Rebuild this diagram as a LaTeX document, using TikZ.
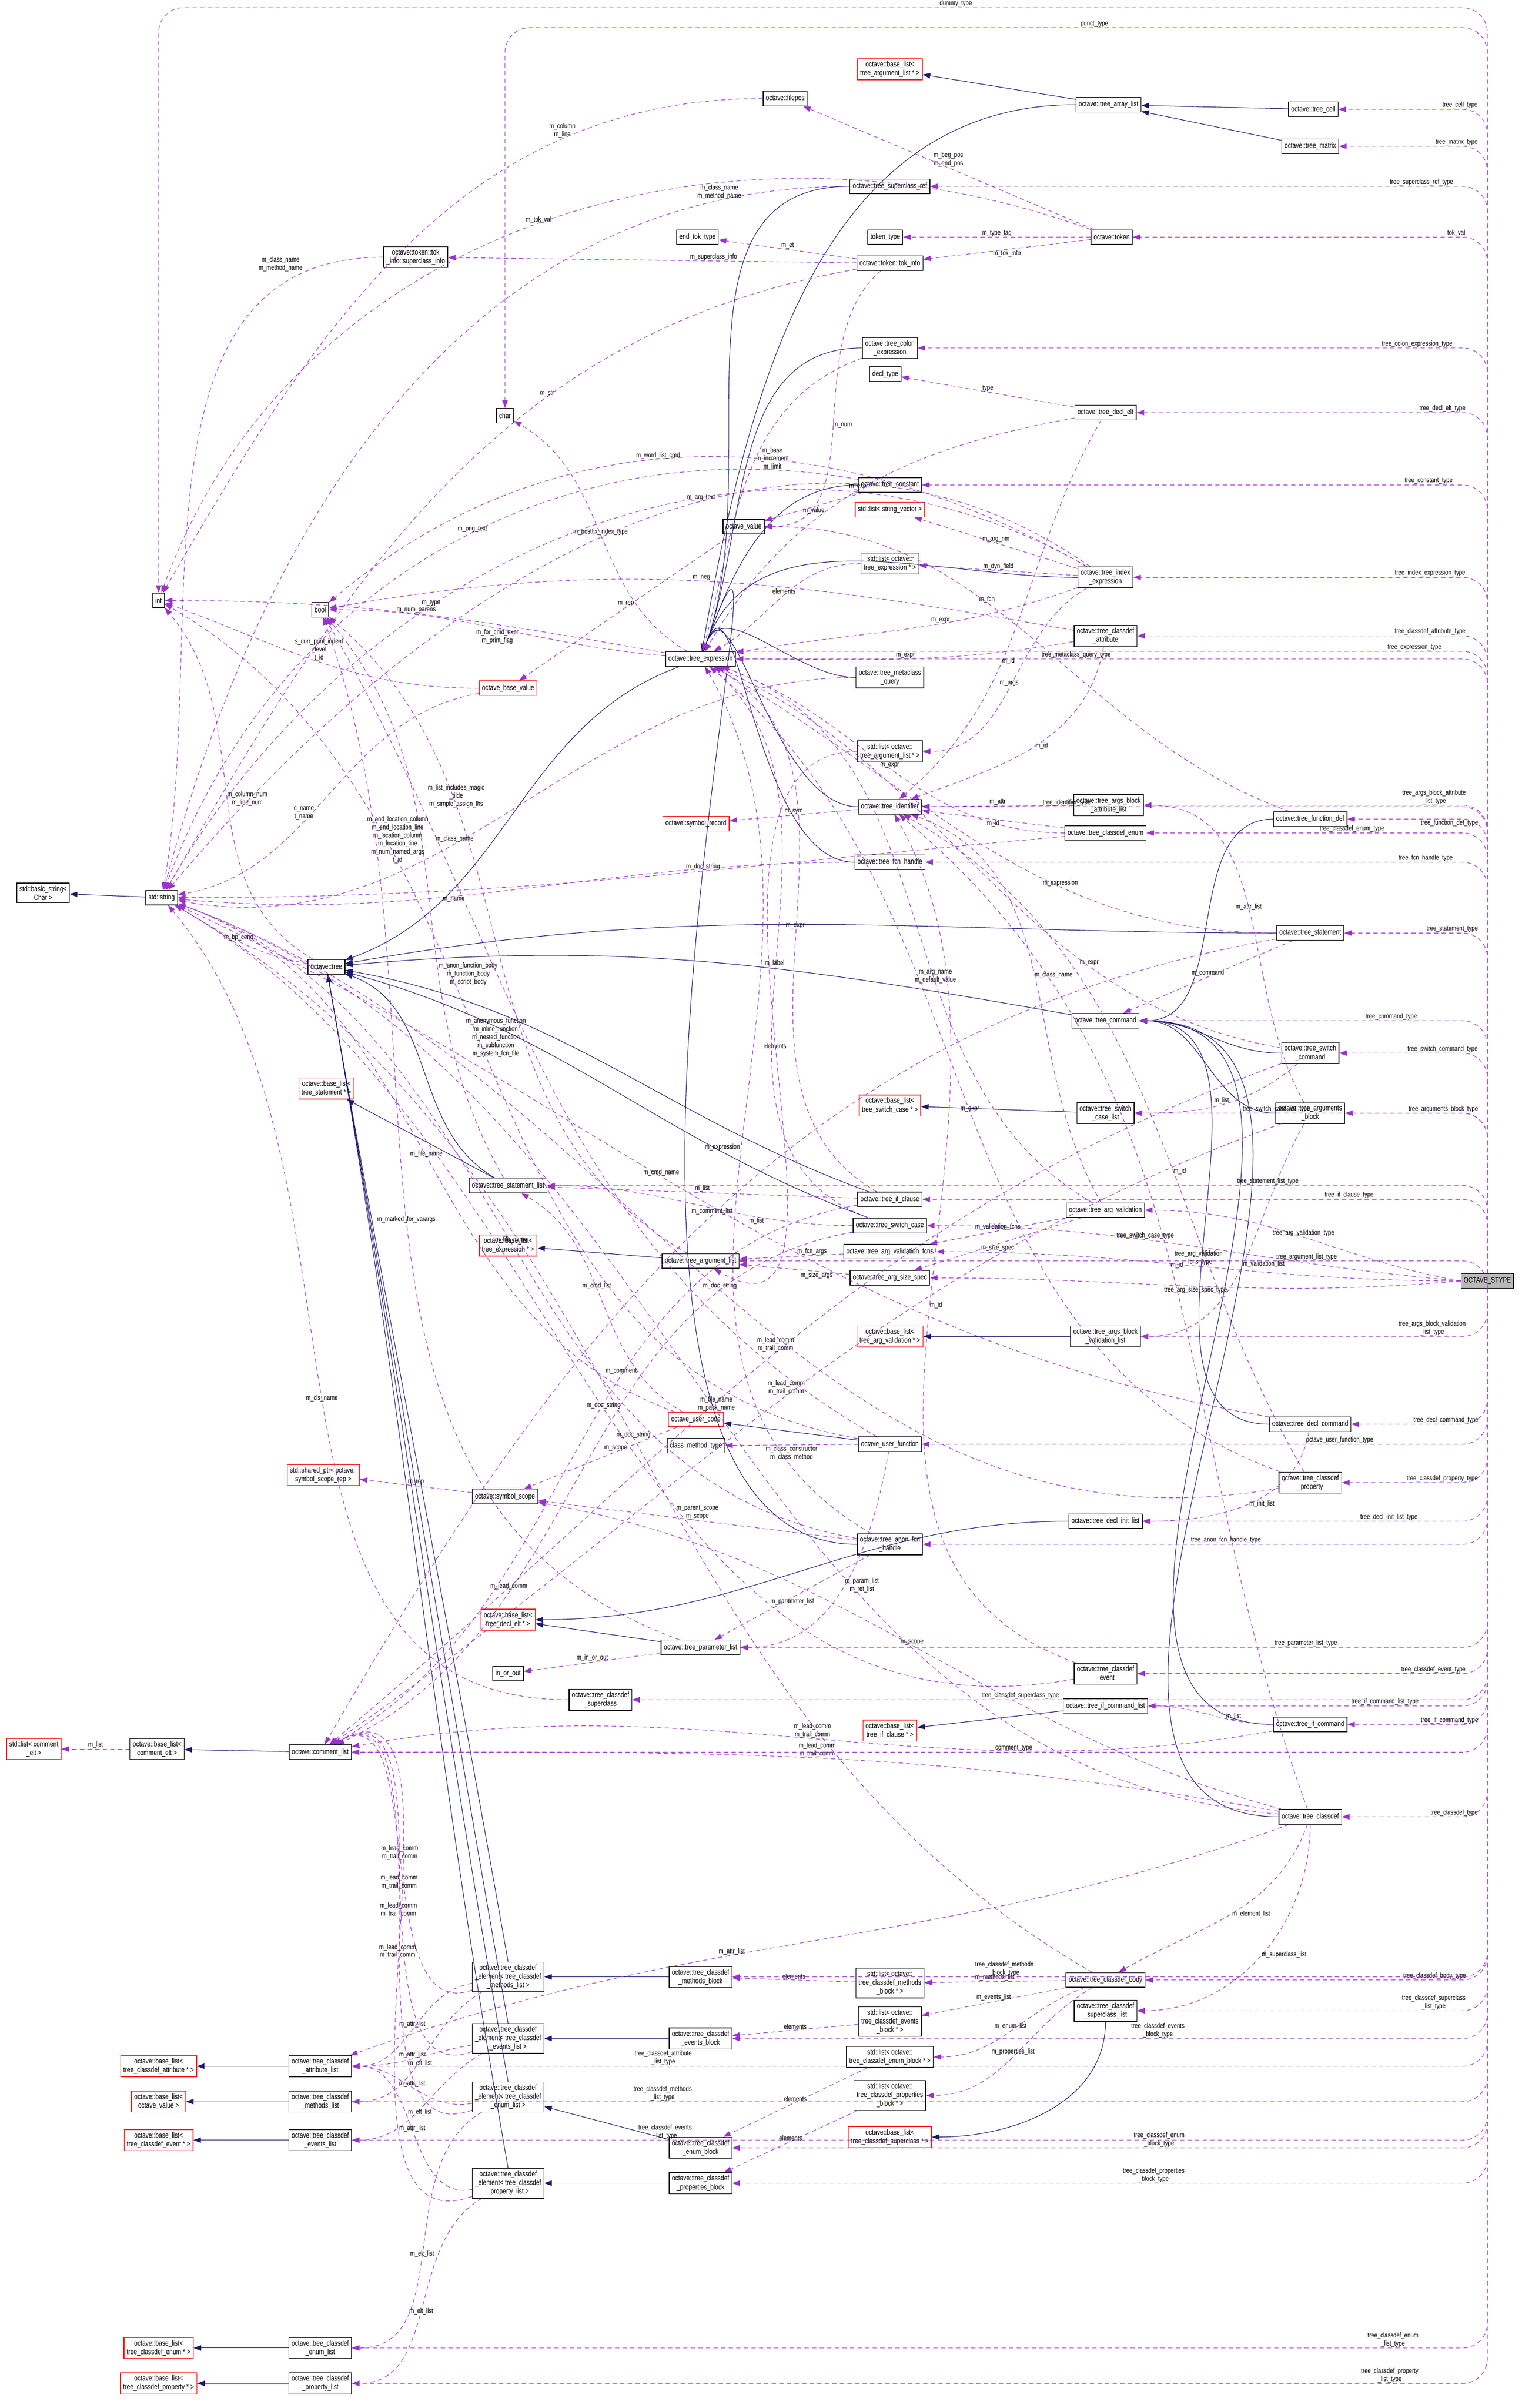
\documentclass[tikz,border=0pt]{standalone}
\usepackage{fontspec}
\setmainfont{Liberation Sans}[FakeStretch=0.8]
\usetikzlibrary{arrows.meta}
\definecolor{usecol}{HTML}{9A32CD}
\definecolor{inhcol}{HTML}{191970}
\newcommand\LT{\textless{}}
\newcommand\GT{\textgreater{}}
\begin{document}
\begin{tikzpicture}[x=0.25mm,y=-0.25mm,
  font=\fontsize{3.5}{4}\selectfont,
  cls/.style={draw=black,line width=0.3pt,fill=white,align=center,inner sep=1.25pt,minimum height=0.2375cm},
  ext/.style={cls,draw=red},
  root/.style={cls,fill=gray!55},
  uses/.style={draw=usecol,dashed,line width=0.25pt,dash pattern=on 2pt off 1.5pt,-{Triangle[length=3.5pt,width=2.5pt]},color=usecol},
  inh/.style={draw=inhcol,line width=0.25pt,-{Triangle[length=3.5pt,width=2.5pt]},color=inhcol},
  lbl/.style={text=black,align=center,inner sep=0.25pt,font=\fontsize{3.25}{3.75}\selectfont},
  stp/.style={uses,rounded corners=4mm},
  sl/.style={lbl,anchor=south east}]
\useasboundingbox (0,0) rectangle (995,1564);
% ---------- nodes ----------
\node[root] (S) at (966,832) {OCTAVE\_STYPE};
\node[cls] (cell) at (853,71) {octave::tree\_cell};
\node[cls] (matrix) at (851,95) {octave::tree\_matrix};
\node[cls] (arrl) at (720,68) {octave::tree\_array\_list};
\node[ext] (lal) at (578,45) {octave::base\_list\LT\\tree\_argument\_list * \GT};
\node[cls] (filepos) at (510,64) {octave::filepos};
\node[cls] (scref) at (578,121) {octave::tree\_superclass\_ref};
\node[cls] (token) at (722,154) {octave::token};
\node[cls] (ttype) at (575,154) {token\_type};
\node[cls] (etok) at (453,154) {end\_tok\_type};
\node[cls] (tokinfo) at (578,171) {octave::token::tok\_info};
\node[cls] (scinfo) at (270,167) {octave::token::tok\\\_info::superclass\_info};
\node[cls] (colon) at (578,226) {octave::tree\_colon\\\_expression};
\node[cls] (decltype) at (575,243) {decl\_type};
\node[cls] (declelt) at (718,268) {octave::tree\_decl\_elt};
\node[cls] (char) at (328,270) {char};
\node[cls] (const) at (578,315) {octave::tree\_constant};
\node[ext] (lsv) at (578,331) {std::list\LT{} string\_vector \GT};
\node[cls] (oval) at (483,342) {octave\_value};
\node[cls] (lte1) at (578,366) {std::list\LT{} octave::\\tree\_expression * \GT};
\node[cls] (idx) at (718,375) {octave::tree\_index\\\_expression};
\node[cls] (bool) at (208,396) {bool};
\node[cls] (int) at (103,390) {int};
\node[cls] (cdattr) at (718,413) {octave::tree\_classdef\\\_attribute};
\node[cls] (expr) at (455,428) {octave::tree\_expression};
\node[cls] (meta) at (578,440) {octave::tree\_metaclass\\\_query};
\node[ext] (obv) at (330,447) {octave\_base\_value};
\node[cls] (lal2) at (578,488) {std::list\LT{} octave::\\tree\_argument\_list * \GT};
\node[cls] (ident) at (578,524) {octave::tree\_identifier};
\node[ext] (symrec) at (452,535) {octave::symbol\_record};
\node[cls] (abattr) at (720,523) {octave::tree\_args\_block\\\_attribute\_list};
\node[cls] (fdef) at (851,532) {octave::tree\_function\_def};
\node[cls] (cdenum) at (718,541) {octave::tree\_classdef\_enum};
\node[cls] (fcnh) at (578,560) {octave::tree\_fcn\_handle};
\node[cls] (bstr) at (28,580) {std::basic\_string\LT\\Char \GT};
\node[cls] (str) at (105,583) {std::string};
\node[cls] (stmt) at (851,606) {octave::tree\_statement};
\node[cls] (tree) at (212,628) {octave::tree};
\node[cls] (cmd) at (718,663) {octave::tree\_command};
\node[cls] (swcmd) at (851,684) {octave::tree\_switch\\\_command};
\node[ext] (lstmt) at (212,707) {octave::base\_list\LT\\tree\_statement * \GT};
\node[ext] (lswc) at (578,718) {octave::base\_list\LT\\tree\_switch\_case * \GT};
\node[cls] (swcl) at (718,723) {octave::tree\_switch\\\_case\_list};
\node[cls] (argblk) at (851,723) {octave::tree\_arguments\\\_block};
\node[cls] (stl) at (330,770) {octave::tree\_statement\_list};
\node[cls] (ifcl) at (578,779) {octave::tree\_if\_clause};
\node[cls] (argval) at (718,786) {octave::tree\_arg\_validation};
\node[cls] (swc) at (578,796) {octave::tree\_switch\_case};
\node[ext] (lte2) at (330,809) {octave::base\_list\LT\\tree\_expression * \GT};
\node[cls] (argl) at (455,819) {octave::tree\_argument\_list};
\node[cls] (avf) at (578,813) {octave::tree\_arg\_validation\_fcns};
\node[cls] (ass) at (578,830) {octave::tree\_arg\_size\_spec};
\node[ext] (lav) at (578,868) {octave::base\_list\LT\\tree\_arg\_validation * \GT};
\node[cls] (abvl) at (718,868) {octave::tree\_args\_block\\\_validation\_list};
\node[ext] (ucode) at (452,922) {octave\_user\_code};
\node[cls] (dcmd) at (851,925) {octave::tree\_decl\_command};
\node[cls] (ufcn) at (578,938) {octave\_user\_function};
\node[cls] (cmt) at (452,939) {class\_method\_type};
\node[ext] (sptr) at (210,958) {std::shared\_ptr\LT{} octave::\\symbol\_scope\_rep \GT};
\node[cls] (cdprop) at (851,963) {octave::tree\_classdef\\\_property};
\node[cls] (sscope) at (328,972) {octave::symbol\_scope};
\node[cls] (anon) at (578,1003) {octave::tree\_anon\_fcn\\\_handle};
\node[cls] (dil) at (718,988) {octave::tree\_decl\_init\_list};
\node[ext] (lde) at (330,1052) {octave::base\_list\LT\\tree\_decl\_elt * \GT};
\node[cls] (parl) at (455,1070) {octave::tree\_parameter\_list};
\node[cls] (inout) at (330,1087) {in\_or\_out};
\node[cls] (cdsup) at (390,1104) {octave::tree\_classdef\\\_superclass};
\node[cls] (cdevt) at (718,1087) {octave::tree\_classdef\\\_event};
\node[cls] (ifcl2) at (718,1108) {octave::tree\_if\_command\_list};
\node[ext] (lifc) at (578,1124) {octave::base\_list\LT\\tree\_if\_clause * \GT};
\node[cls] (ifcmd) at (851,1120) {octave::tree\_if\_command};
\node[ext] (lca) at (22,1136) {std::list\LT{} comment\\\_elt \GT};
\node[cls] (blca) at (102,1136) {octave::base\_list\LT\\comment\_elt \GT};
\node[cls] (cl) at (208,1138) {octave::comment\_list};
\node[cls] (cd) at (851,1180) {octave::tree\_classdef};
\node[cls] (elm) at (330,1284) {octave::tree\_classdef\\\_element\LT{} tree\_classdef\\\_methods\_list \GT};
\node[cls] (mblk) at (455,1284) {octave::tree\_classdef\\\_methods\_block};
\node[cls] (lmb) at (578,1288) {std::list\LT{} octave::\\tree\_classdef\_methods\\\_block * \GT};
\node[cls] (body) at (718,1286) {octave::tree\_classdef\_body};
\node[cls] (supl) at (718,1306) {octave::tree\_classdef\\\_superclass\_list};
\node[cls] (leb) at (578,1313) {std::list\LT{} octave::\\tree\_classdef\_events\\\_block * \GT};
\node[cls] (ele) at (330,1324) {octave::tree\_classdef\\\_element\LT{} tree\_classdef\\\_events\_list \GT};
\node[cls] (eblk) at (455,1324) {octave::tree\_classdef\\\_events\_block};
\node[ext] (lattr) at (103,1342) {octave::base\_list\LT\\tree\_classdef\_attribute * \GT};
\node[cls] (attrl) at (208,1342) {octave::tree\_classdef\\\_attribute\_list};
\node[cls] (lenb) at (578,1336) {std::list\LT{} octave::\\tree\_classdef\_enum\_block * \GT};
\node[cls] (elen) at (330,1362) {octave::tree\_classdef\\\_element\LT{} tree\_classdef\\\_enum\_list \GT};
\node[ext] (lov) at (103,1365) {octave::base\_list\LT\\octave\_value \GT};
\node[cls] (methl) at (208,1365) {octave::tree\_classdef\\\_methods\_list};
\node[cls] (lpb) at (578,1361) {std::list\LT{} octave::\\tree\_classdef\_properties\\\_block * \GT};
\node[ext] (levt) at (103,1390) {octave::base\_list\LT\\tree\_classdef\_event * \GT};
\node[cls] (evtl) at (208,1390) {octave::tree\_classdef\\\_events\_list};
\node[ext] (lsup) at (578,1388) {octave::base\_list\LT\\tree\_classdef\_superclass * \GT};
\node[cls] (enblk) at (455,1395) {octave::tree\_classdef\\\_enum\_block};
\node[cls] (elp) at (330,1418) {octave::tree\_classdef\\\_element\LT{} tree\_classdef\\\_property\_list \GT};
\node[cls] (pblk) at (455,1418) {octave::tree\_classdef\\\_properties\_block};
\node[ext] (lenum) at (103,1525) {octave::base\_list\LT\\tree\_classdef\_enum * \GT};
\node[cls] (enl) at (208,1525) {octave::tree\_classdef\\\_enum\_list};
\node[ext] (lprop) at (103,1548) {octave::base\_list\LT\\tree\_classdef\_property * \GT};
\node[cls] (propl) at (208,1548) {octave::tree\_classdef\\\_property\_list};
% ---------- inheritance ----------
\draw[inh] (cell) -- (arrl);
\draw[inh] (matrix) -- (arrl);
\draw[inh] (arrl) -- (lal);
\draw[inh] (arrl) to[out=180,in=80] (expr);
\foreach \n in {scref,colon,const,idx,meta,ident,fcnh,anon}
  \draw[inh] (\n.west) to[out=180,in=70] (expr);
\draw[inh] (expr) to[out=200,in=20] (tree);
\draw[inh] (stmt) to[out=180,in=10] (tree);
\draw[inh] (cmd) to[out=170,in=5] (tree);
\draw[inh] (stl) to[out=150,in=-20] (tree);
\draw[inh] (ifcl) to[out=160,in=-10] (tree);
\draw[inh] (swc) to[out=160,in=-15] (tree);
\draw[inh] (stl) -- (lstmt);
\foreach \n in {fdef,swcmd,argblk,ifcmd,cd,dcmd}
  \draw[inh] (\n) to[out=180,in=0] (cmd);
\draw[inh] (swcl) -- (lswc);
\draw[inh] (argl) -- (lte2);
\draw[inh] (abvl) -- (lav);
\draw[inh] (dil) to[out=180,in=0] (lde);
\draw[inh] (parl) -- (lde);
\draw[inh] (ifcl2) -- (lifc);
\draw[inh] (ufcn) -- (ucode);
\draw[inh] (str) -- (bstr);
\draw[inh] (cl) -- (blca);
\foreach \n in {elm,ele,elen,elp}
  \draw[inh] (\n.north) to[out=100,in=-80] (tree);
\draw[inh] (mblk) -- (elm);
\draw[inh] (eblk) -- (ele);
\draw[inh] (enblk) -- (elen);
\draw[inh] (pblk) -- (elp);
\draw[inh] (attrl) -- (lattr);
\draw[inh] (methl) -- (lov);
\draw[inh] (evtl) -- (levt);
\draw[inh] (enl) -- (lenum);
\draw[inh] (propl) -- (lprop);
\draw[inh] (supl) to[out=-90,in=0] (lsup);
% ---------- usage (internal) ----------
\draw[uses] (blca) -- node[lbl,above]{m\_list} (lca);
\draw[uses] (token) -- node[lbl,above]{m\_beg\_pos\\m\_end\_pos} (filepos);
\draw[uses] (filepos) to[out=180,in=60] node[lbl,above,pos=0.25]{m\_column\\m\_line} (int);
\draw[uses] (token) to[out=160,in=70] node[lbl,above,pos=0.5]{m\_tok\_val} (int);
\draw[uses] (token) -- node[lbl,above]{m\_type\_tag} (ttype);
\draw[uses] (token) -- node[lbl,below]{m\_tok\_info} (tokinfo);
\draw[uses] (tokinfo) -- node[lbl,above]{m\_et} (etok);
\draw[uses] (tokinfo) -- node[lbl,above,pos=0.35]{m\_superclass\_info} (scinfo);
\draw[uses] (tokinfo) to[out=190,in=60] node[lbl,above,pos=0.35]{m\_str} (str);
\draw[uses] (tokinfo) to[out=220,in=0] node[lbl,right,pos=0.5]{m\_num} (oval);
\draw[uses] (scinfo) to[out=180,in=80] node[lbl,above left,pos=0.12]{m\_class\_name\\m\_method\_name} (str);
\draw[uses] (scref) to[out=180,in=75] node[lbl,above,pos=0.12]{m\_class\_name\\m\_method\_name} (str);
\draw[uses] (colon) to[out=200,in=75] node[lbl,right,pos=0.45]{m\_base\\m\_increment\\m\_limit} (expr);
\draw[uses] (declelt) -- node[lbl,above]{type} (decltype);
\draw[uses] (declelt) to[out=190,in=60] node[lbl,above,pos=0.5]{m\_expr} (expr);
\draw[uses] (declelt) to[out=-120,in=40] node[lbl,right,pos=0.6]{m\_id} (ident);
\draw[uses] (const) -- node[lbl,below]{m\_value} (oval);
\draw[uses] (const) to[out=170,in=70] node[lbl,above,pos=0.45]{m\_orig\_text} (str);
\draw[uses] (oval) -- node[lbl,above]{m\_rep} (obv);
\draw[uses] (expr) to[out=150,in=-30] node[lbl,above,pos=0.5]{m\_postfix\_index\_type} (char);
\draw[uses] (expr) to[out=170,in=0] node[lbl,above,pos=0.5]{m\_num\_parens} (int);
\draw[uses] (expr) to[out=175,in=0] node[lbl,below,pos=0.5]{m\_for\_cmd\_expr\\m\_print\_flag} (bool);
\draw[uses] (idx) -- node[lbl,above]{m\_arg\_nm} (lsv);
\draw[uses] (idx) -- node[lbl,above]{m\_dyn\_field} (lte1);
\draw[uses] (idx) to[out=200,in=10] node[lbl,above,pos=0.4]{m\_expr} (expr);
\draw[uses] (idx) to[out=210,in=0] node[lbl,above,pos=0.5]{m\_args} (lal2);
\draw[uses] (idx) to[out=150,in=60] node[lbl,above,pos=0.65]{m\_type} (str);
\draw[uses] (idx) to[out=150,in=40] node[lbl,above,pos=0.55]{m\_word\_list\_cmd} (bool);
\draw[uses] (idx) to[out=145,in=50] node[lbl,above,pos=0.4]{m\_arg\_text} (str);
\draw[uses] (lte1) to[out=180,in=30] node[lbl,above]{elements} (expr);
\draw[uses] (lal2) to[out=180,in=-30] node[lbl,above]{elements} (argl);
\draw[uses] (cdattr) to[out=190,in=0] node[lbl,above,pos=0.5]{m\_expr} (expr);
\draw[uses] (cdattr) to[out=-100,in=20] node[lbl,right,pos=0.5]{m\_id} (ident);
\draw[uses] (cdattr) to[out=170,in=10] node[lbl,above,pos=0.5]{m\_neg} (bool);
\draw[uses] (meta) to[out=180,in=-10] node[lbl,above,pos=0.6]{m\_class\_name} (str);
\draw[uses] (ident) -- node[lbl,above]{m\_sym} (symrec);
\draw[uses] (abattr) -- node[lbl,above]{m\_attr} (ident);
\draw[uses] (cdenum) -- node[lbl,below]{m\_id} (ident);
\draw[uses] (cdenum) to[out=180,in=-20] node[lbl,above,pos=0.5]{m\_expr} (expr);
\draw[uses] (cdenum) to[out=185,in=0] node[lbl,above,pos=0.4]{m\_doc\_string} (str);
\draw[uses] (fcnh) to[out=180,in=-5] node[lbl,below,pos=0.6]{m\_name} (str);
\draw[uses] (fdef) to[out=160,in=0] node[lbl,above,pos=0.6]{m\_fcn} (oval);
\draw[uses] (stmt) -- node[lbl,above]{m\_command} (cmd);
\draw[uses] (stmt) to[out=180,in=-30] node[lbl,above,pos=0.35]{m\_expression} (expr);
\draw[uses] (stmt) to[out=190,in=60] node[lbl,above,pos=0.5]{m\_comment\_list} (cl);
\draw[uses] (tree) to[out=150,in=-50] node[lbl,right,pos=0.5]{m\_column\_num\\m\_line\_num} (int);
\draw[uses] (tree) to[out=170,in=-30] node[lbl,above,pos=0.5]{m\_bp\_cond} (str);
\draw[uses] (obv) to[out=180,in=-20] node[lbl,above,pos=0.5]{s\_curr\_print\_indent\\\_level\\t\_id} (int);
\draw[uses] (obv) to[out=190,in=10] node[lbl,above,pos=0.6]{c\_name\\t\_name} (str);
\draw[uses] (swcmd) to[out=170,in=-25] node[lbl,above,pos=0.3]{m\_expr} (expr);
\draw[uses] (swcmd) to[out=220,in=0] node[lbl,above,pos=0.5]{m\_list} (swcl);
\draw[uses] (swcmd) to[out=200,in=40] node[lbl,above,pos=0.5]{m\_lead\_comm\\m\_trail\_comm} (cl);
\draw[uses] (argblk) to[out=120,in=0] node[lbl,above,pos=0.5]{m\_attr\_list} (abattr);
\draw[uses] (argblk) to[out=-120,in=0] node[lbl,right,pos=0.5]{m\_validation\_list} (abvl);
\draw[uses] (argblk) to[out=200,in=35] node[lbl,above,pos=0.5]{m\_lead\_comm\\m\_trail\_comm} (cl);
\draw[uses] (ifcl) to[out=150,in=-30] node[lbl,above,pos=0.5]{m\_expr} (expr);
\draw[uses] (ifcl) -- node[lbl,above]{m\_list} (stl);
\draw[uses] (ifcl) to[out=190,in=30] node[lbl,above,pos=0.4]{m\_comment} (cl);
\draw[uses] (argval) to[out=150,in=-20] node[lbl,above,pos=0.4]{m\_arg\_name\\m\_default\_value} (expr);
\draw[uses] (argval) -- node[lbl,above]{m\_validation\_fcns} (avf);
\draw[uses] (argval) -- node[lbl,below]{m\_size\_spec} (ass);
\draw[uses] (argval) to[out=120,in=-20] node[lbl,right,pos=0.5]{m\_class\_name} (ident);
\draw[uses] (swc) to[out=160,in=-40] node[lbl,above,pos=0.5]{m\_label} (expr);
\draw[uses] (swc) to[out=180,in=0] node[lbl,below,pos=0.3]{m\_list} (stl);
\draw[uses] (swc) to[out=190,in=25] node[lbl,above,pos=0.7]{m\_lead\_comm} (cl);
\draw[uses] (avf) -- node[lbl,above,pos=0.3]{m\_fcn\_args} (argl);
\draw[uses] (ass) -- node[lbl,below,pos=0.3]{m\_size\_args} (argl);
\draw[uses] (argl) to[out=150,in=-40] node[lbl,above,pos=0.7]{m\_list\_includes\_magic\\\_tilde\\m\_simple\_assign\_lhs} (bool);
\draw[uses] (stl) to[out=120,in=-50] node[lbl,right,pos=0.35]{m\_anon\_function\_body\\m\_function\_body\\m\_script\_body} (bool);
\draw[uses] (ucode) -- node[lbl,above,pos=0.4]{m\_scope} (sscope);
\draw[uses] (ucode) to[out=160,in=-20] node[lbl,above,pos=0.5]{m\_file\_name} (str);
\draw[uses] (ucode) to[out=150,in=-30] node[lbl,above,pos=0.55]{m\_cmd\_list} (stl);
\draw[uses] (ufcn) -- node[lbl,below]{m\_class\_constructor\\m\_class\_method} (cmt);
\draw[uses] (ufcn) to[out=-100,in=0] node[lbl,right,pos=0.5]{m\_param\_list\\m\_ret\_list} (parl);
\draw[uses] (ufcn) to[out=150,in=-60] node[lbl,left,pos=0.55]{m\_anonymous\_function\\m\_inline\_function\\m\_nested\_function\\m\_subfunction\\m\_system\_fcn\_file} (bool);
\draw[uses] (ufcn) to[out=170,in=-30] node[lbl,above,pos=0.7]{m\_end\_location\_column\\m\_end\_location\_line\\m\_location\_column\\m\_location\_line\\m\_num\_named\_args\\t\_id} (int);
\draw[uses] (sscope) -- node[lbl,above]{m\_rep} (sptr);
\draw[uses] (dcmd) to[out=-100,in=0] node[lbl,right,pos=0.5]{m\_init\_list} (dil);
\draw[uses] (dcmd) to[out=170,in=-25] node[lbl,above,pos=0.55]{m\_cmd\_name} (str);
\draw[uses] (cdprop) to[out=160,in=-40] node[lbl,above,pos=0.5]{m\_expr} (expr);
\draw[uses] (cdprop) to[out=120,in=-30] node[lbl,right,pos=0.4]{m\_id} (ident);
\draw[uses] (cdprop) to[out=190,in=-20] node[lbl,above,pos=0.5]{m\_doc\_string} (str);
\draw[uses] (anon) -- node[lbl,below]{m\_parameter\_list} (parl);
\draw[uses] (anon) to[out=150,in=-60] node[lbl,left,pos=0.5]{m\_expression} (expr);
\draw[uses] (anon) -- node[lbl,above]{m\_parent\_scope\\m\_scope} (sscope);
\draw[uses] (anon) to[out=170,in=-20] node[lbl,above,pos=0.5]{m\_file\_name} (str);
\draw[uses] (parl) -- node[lbl,above]{m\_in\_or\_out} (inout);
\draw[uses] (parl) to[out=160,in=-70] node[lbl,above,pos=0.5]{m\_marked\_for\_varargs} (bool);
\draw[uses] (cdsup) to[out=180,in=-50] node[lbl,above,pos=0.5]{m\_cls\_name} (str);
\draw[uses] (cdevt) to[out=160,in=-60] node[lbl,right,pos=0.5]{m\_id} (ident);
\draw[uses] (cdevt) to[out=190,in=-30] node[lbl,above,pos=0.5]{m\_doc\_string} (str);
\draw[uses] (ifcmd) to[out=180,in=0] node[lbl,above,pos=0.3]{m\_list} (ifcl2);
\draw[uses] (ifcmd) to[out=190,in=10] node[lbl,above,pos=0.5]{m\_lead\_comm\\m\_trail\_comm} (cl);
\draw[uses] (cd) to[out=170,in=0] node[lbl,above,pos=0.5]{m\_lead\_comm\\m\_trail\_comm} (cl);
\draw[uses] (cd) to[out=-110,in=30] node[lbl,right,pos=0.5]{m\_element\_list} (body);
\draw[uses] (cd) to[out=-90,in=0] node[lbl,right,pos=0.5]{m\_superclass\_list} (supl);
\draw[uses] (cd) to[out=200,in=20] node[lbl,above,pos=0.6]{m\_attr\_list} (attrl);
\draw[uses] (cd) to[out=110,in=-40] node[lbl,right,pos=0.5]{m\_id} (ident);
\draw[uses] (cd) to[out=175,in=-20] node[lbl,above,pos=0.5]{m\_file\_name\\m\_pack\_name} (str);
\draw[uses] (cd) to[out=165,in=-10] node[lbl,above,pos=0.5]{m\_scope} (sscope);
\draw[uses] (body) -- node[lbl,above]{m\_methods\_list} (lmb);
\draw[uses] (body) -- node[lbl,above]{m\_events\_list} (leb);
\draw[uses] (body) to[out=200,in=0] node[lbl,above,pos=0.5]{m\_enum\_list} (lenb);
\draw[uses] (body) to[out=210,in=0] node[lbl,above,pos=0.5]{m\_properties\_list} (lpb);
\draw[uses] (body) to[out=150,in=-30] node[lbl,above,pos=0.5]{m\_doc\_string} (str);
\draw[uses] (lmb) -- node[lbl,above]{elements} (mblk);
\draw[uses] (leb) -- node[lbl,above]{elements} (eblk);
\draw[uses] (lenb) -- node[lbl,above]{elements} (enblk);
\draw[uses] (lpb) -- node[lbl,above]{elements} (pblk);
\foreach \e/\t in {elm/methl,ele/evtl,elen/enl,elp/propl}{
  \draw[uses] (\e) to[out=200,in=30] node[lbl,above,pos=0.5]{m\_lead\_comm\\m\_trail\_comm} (cl);
  \draw[uses] (\e) to[out=190,in=0] node[lbl,above,pos=0.5]{m\_attr\_list} (attrl);
  \draw[uses] (\e) to[out=210,in=0] node[lbl,below,pos=0.5]{m\_elt\_list} (\t);
}
% ---------- OCTAVE_STYPE members ----------
\coordinate (dtop) at (103,5);
\coordinate (ptop) at (328,18);
\draw[stp] (S.north) |- node[lbl,pos=0.7,above]{dummy\_type} (dtop) -- (int.north);
\draw[stp] (S.north) |- node[lbl,pos=0.7,above]{punct\_type} (ptop) -- (char.north);
\foreach \t/\l/\p in {cell/tree\_cell\_type/0.53,matrix/tree\_matrix\_type/0.53,token/tok\_val/0.53,
  scref/tree\_superclass\_ref\_type/0.53,colon/tree\_colon\_expression\_type/0.53,
  declelt/tree\_decl\_elt\_type/0.53,const/tree\_constant\_type/0.53,idx/tree\_index\_expression\_type/0.53,
  cdattr/tree\_classdef\_attribute\_type/0.53,expr/tree\_metaclass\_query\_type/0.75,
  ident/tree\_identifier\_type/0.85,cdenum/tree\_classdef\_enum\_type/0.65,
  fcnh/tree\_fcn\_handle\_type/0.53,stmt/tree\_statement\_type/0.53,cmd/tree\_command\_type/0.6,
  swcmd/tree\_switch\_command\_type/0.53,argblk/tree\_arguments\_block\_type/0.53,
  swcl/tree\_switch\_case\_list\_type/0.75,ifcl/tree\_if\_clause\_type/0.6}
  \draw[stp] (S.north) |- node[sl,pos=\p]{\l} (\t.east);
\draw[stp] (S.north) |- node[lbl,pos=0.53,anchor=north east]{tree\_function\_def\_type} (fdef.east);
\draw[stp] (S.north) |- node[sl,pos=0.53]{tree\_expression\_type} (expr.north east);
\draw[stp] (S.north) |- node[sl,pos=0.53]{tree\_args\_block\_attribute\\\_list\_type} (abattr.east);
\draw[uses] (S.west) to[out=170,in=0] node[lbl,above,pos=0.5]{tree\_arg\_validation\_type} (argval);
\draw[uses] (S.west) to[out=175,in=0] node[lbl,above,pos=0.6]{tree\_switch\_case\_type} (swc);
\draw[uses] (S.west) to[out=180,in=0] node[lbl,above,pos=0.5]{tree\_arg\_validation\\\_fcns\_type} (avf);
\draw[uses] (S.west) to[out=185,in=0] node[lbl,below,pos=0.5]{tree\_arg\_size\_spec\_type} (ass);
\foreach \t/\l/\p in {argl/tree\_argument\_list\_type/0.6,dcmd/tree\_decl\_command\_type/0.53,
  stl/tree\_statement\_list\_type/0.6,ufcn/octave\_user\_function\_type/0.6,
  cdprop/tree\_classdef\_property\_type/0.53,dil/tree\_decl\_init\_list\_type/0.6,
  anon/tree\_anon\_fcn\_handle\_type/0.7,parl/tree\_parameter\_list\_type/0.6,
  cdsup/tree\_classdef\_superclass\_type/0.75,cdevt/tree\_classdef\_event\_type/0.53,
  ifcl2/tree\_if\_command\_list\_type/0.6,ifcmd/tree\_if\_command\_type/0.53,
  cd/tree\_classdef\_type/0.53,cl/comment\_type/0.7,body/tree\_classdef\_body\_type/0.53}
  \draw[stp] (S.south) |- node[sl,pos=\p]{\l} (\t.east);
\foreach \t/\a/\b/\p in {abvl/tree\_args\_block\_validation/\_list\_type/0.53,
  mblk/tree\_classdef\_methods/\_block\_type/0.8,
  supl/tree\_classdef\_superclass/\_list\_type/0.53,
  eblk/tree\_classdef\_events/\_block\_type/0.7,
  enblk/tree\_classdef\_enum/\_block\_type/0.7,
  pblk/tree\_classdef\_properties/\_block\_type/0.7,
  attrl/tree\_classdef\_attribute/\_list\_type/0.85,
  methl/tree\_classdef\_methods/\_list\_type/0.85,
  evtl/tree\_classdef\_events/\_list\_type/0.85,
  enl/tree\_classdef\_enum/\_list\_type/0.53,
  propl/tree\_classdef\_property/\_list\_type/0.53}
  \draw[stp] (S.south) |- node[sl,pos=\p]{\a\\\b} (\t.east);
\end{tikzpicture}
\end{document}
